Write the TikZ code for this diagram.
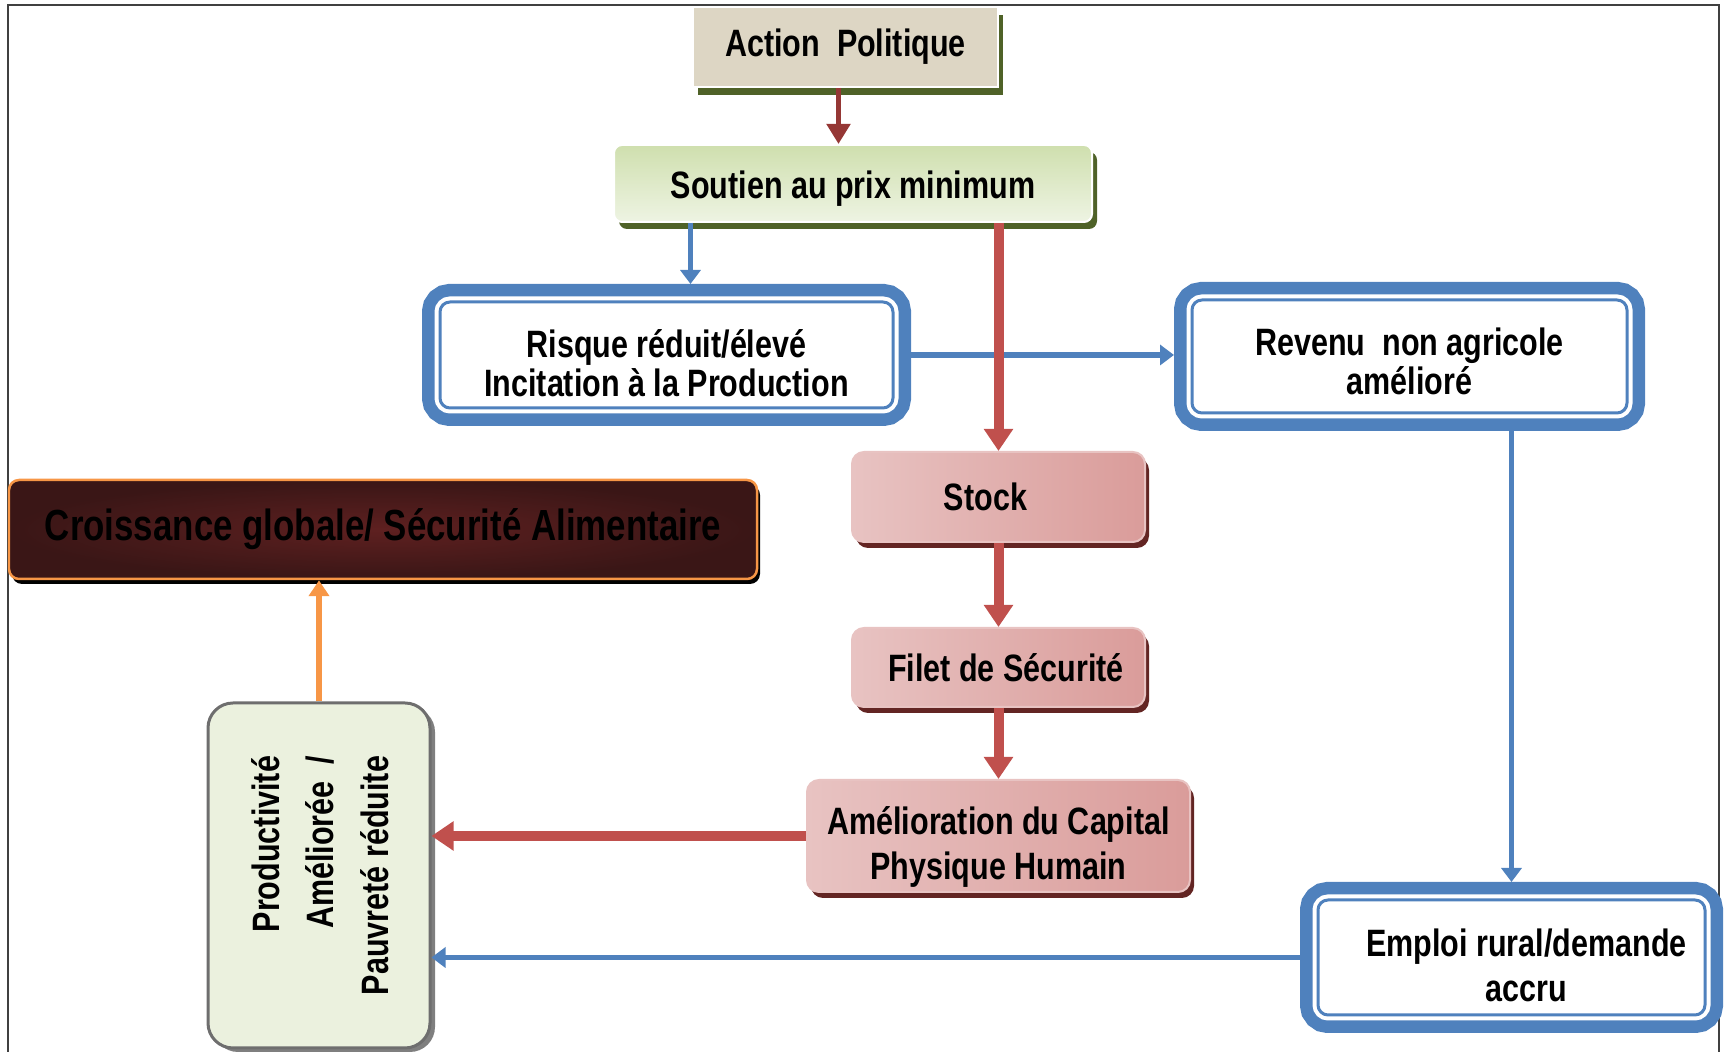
\documentclass[tikz,border=0pt]{standalone}
\usepackage{fontspec}
\setmainfont{Liberation Sans}[FakeStretch=0.8]
\usepackage{graphicx}
\usetikzlibrary{arrows.meta, shadows}

\definecolor{blueline}{HTML}{4F81BD}
\definecolor{redline}{HTML}{C0504D}
\definecolor{darkred}{HTML}{953735}
\definecolor{orangeline}{HTML}{F79646}
\definecolor{oliveshadow}{HTML}{4F6228}
\definecolor{maroonshadow}{HTML}{632523}
\definecolor{pinklight}{HTML}{F3E0DF}
\definecolor{pinkmid}{HTML}{E8C3C2}
\definecolor{pinkdark}{HTML}{DA9C9A}
\definecolor{greenlight}{HTML}{EEF4E3}
\definecolor{greenmid}{HTML}{CFDFAE}
\definecolor{beige}{HTML}{DDD6C4}
\definecolor{prodfill}{HTML}{EBF1DE}
\definecolor{prodgray}{HTML}{6E6E6E}
\definecolor{shadowgray}{HTML}{7F7F7F}
\definecolor{maroonin}{HTML}{5E2020}
\definecolor{maroonout}{HTML}{3A1616}
\definecolor{framegray}{HTML}{404040}

\newcommand{\diagfont}{\fontsize{10.85}{11}\selectfont\bfseries}
\newcommand{\bigdiagfont}{\fontsize{12.4}{14}\selectfont\bfseries}
\newcommand{\lifttext}[1]{\rule{0pt}{#1}}

\begin{document}
\begin{tikzpicture}[
    actionbox/.style={draw=white, line width=0.02cm, fill=beige, inner sep=0,
        general shadow={fill=oliveshadow, shadow xshift=0.05cm, shadow yshift=-0.08cm},
        font=\diagfont},
    greenbox/.style={draw=white, line width=0.02cm, rounded corners=0.08cm, inner sep=0,
        top color=greenmid, bottom color=greenlight,
        general shadow={fill=oliveshadow, shadow xshift=0.05cm, shadow yshift=-0.07cm},
        font=\diagfont},
    bluebox/.style={draw=blueline, line width=0.03cm, fill=white, rounded corners=0.1cm,
        inner sep=0, outer sep=0.18cm, align=center, font=\diagfont,
        preaction={draw=blueline, line width=0.36cm},
        preaction={draw=white, line width=0.11cm}},
    pinkbox/.style={draw=pinkmid, line width=0.02cm, rounded corners=0.12cm, inner sep=0,
        left color=pinkmid, middle color=pinklight, right color=pinkdark,
        general shadow={fill=maroonshadow, shadow xshift=0.04cm, shadow yshift=-0.06cm},
        align=center, font=\diagfont},
    prodbox/.style={draw=prodgray, line width=0.03cm, fill=prodfill, rounded corners=0.25cm,
        inner sep=0,
        general shadow={fill=shadowgray, shadow xshift=0.05cm, shadow yshift=-0.04cm},
        font=\fontsize{10.85}{15.6}\selectfont\bfseries},
    growthbox/.style={draw=orangeline, line width=0.025cm, rounded corners=0.1cm, inner sep=0,
        inner color=maroonin, outer color=maroonout,
        general shadow={fill=black, shadow xshift=0.03cm, shadow yshift=-0.05cm},
        font=\bigdiagfont},
    redarrow/.style={draw=redline, line width=0.1cm, -{Triangle[width=0.28cm, length=0.22cm]}},
    bluearrow/.style={draw=blueline, line width=0.055cm, -{Triangle[width=0.2cm, length=0.14cm]}},
    darkarrow/.style={draw=darkred, line width=0.05cm, -{Triangle[width=0.23cm, length=0.2cm]}},
    orangearrow/.style={draw=orangeline, line width=0.055cm, -{Triangle[width=0.2cm, length=0.16cm]}}
]

    \useasboundingbox (0, 0) rectangle (17.25, -10.52);

    % Frame
    \draw[framegray, line width=0.02cm] (0.08, -10.52) -- (0.08, -0.05)
        -- (17.19, -0.05) -- (17.19, -10.52);

    % Top
    \node[actionbox, minimum width=3.05cm, minimum height=0.8cm]
        (action) at (8.455, -0.47) {Action\ \ Politique};
    \node[greenbox, minimum width=4.78cm, minimum height=0.77cm]
        (soutien) at (8.53, -1.835) {\lifttext{0.37cm}Soutien au prix minimum};

    % Blue boxes
    \node[bluebox, minimum width=4.53cm, minimum height=1.06cm]
        (risque) at (6.665, -3.55) {\lifttext{0.44cm}Risque réduit/élevé\\Incitation à la Production};
    \node[bluebox, minimum width=4.35cm, minimum height=1.13cm]
        (revenu) at (14.095, -3.565) {\lifttext{0.38cm}Revenu\ \ non agricole\\amélioré};
    \node[bluebox, minimum width=3.87cm, minimum height=1.15cm,
        font=\fontsize{10.85}{12.8}\selectfont\bfseries]
        (emploi) at (15.115, -9.575) {\lifttext{0.44cm}\hspace{0.3cm}Emploi rural/demande\\\hspace{0.3cm}accru};

    % Red boxes
    \node[pinkbox, minimum width=2.93cm, minimum height=0.9cm]
        (stock) at (9.985, -4.97) {Stock\hspace{0.26cm}};
    \node[pinkbox, minimum width=2.93cm, minimum height=0.79cm]
        (filet) at (9.985, -6.675) {\hspace{0.15cm}Filet de Sécurité};
    \node[pinkbox, minimum width=3.83cm, minimum height=1.12cm,
        font=\fontsize{10.85}{12.8}\selectfont\bfseries]
        (amel) at (9.985, -8.36) {\lifttext{0.5cm}Amélioration du Capital\\Physique Humain};

    % Results
    \node[growthbox, minimum width=7.48cm, minimum height=0.99cm]
        (croiss) at (3.83, -5.295) {Croissance globale/ Sécurité Alimentaire};
    \node[prodbox, minimum width=2.22cm, minimum height=3.45cm]
        (prod) at (3.19, -8.755) {\hspace{0.08cm}\rotatebox{90}{\begin{tabular}{@{}r@{}}
            Productivité\\Améliorée\ \ /\\Pauvreté réduite\end{tabular}}};

    % Links
    \draw[darkarrow] ([xshift=-0.07cm]action.south) -- ([xshift=-0.07cm]action.south |- soutien.north);
    \draw[bluearrow] ([xshift=0.24cm]risque.north |- soutien.south) -- ([xshift=0.24cm]risque.north);
    \draw[bluearrow] (risque.east) -- (risque.east -| revenu.west);
    \draw[bluearrow] (revenu.south -| emploi.north) -- (emploi.north);
    \draw[bluearrow] (emploi.west) -- (emploi.west -| prod.east);
    \draw[redarrow] (soutien.south -| stock.north) -- (stock.north);
    \draw[redarrow] (stock) -- (filet);
    \draw[redarrow] (filet) -- (amel);
    \draw[redarrow] (amel.west) -- (amel.west -| prod.east);
    \draw[orangearrow] (prod.north) -- (prod.north |- croiss.south);

\end{tikzpicture}
\end{document}
